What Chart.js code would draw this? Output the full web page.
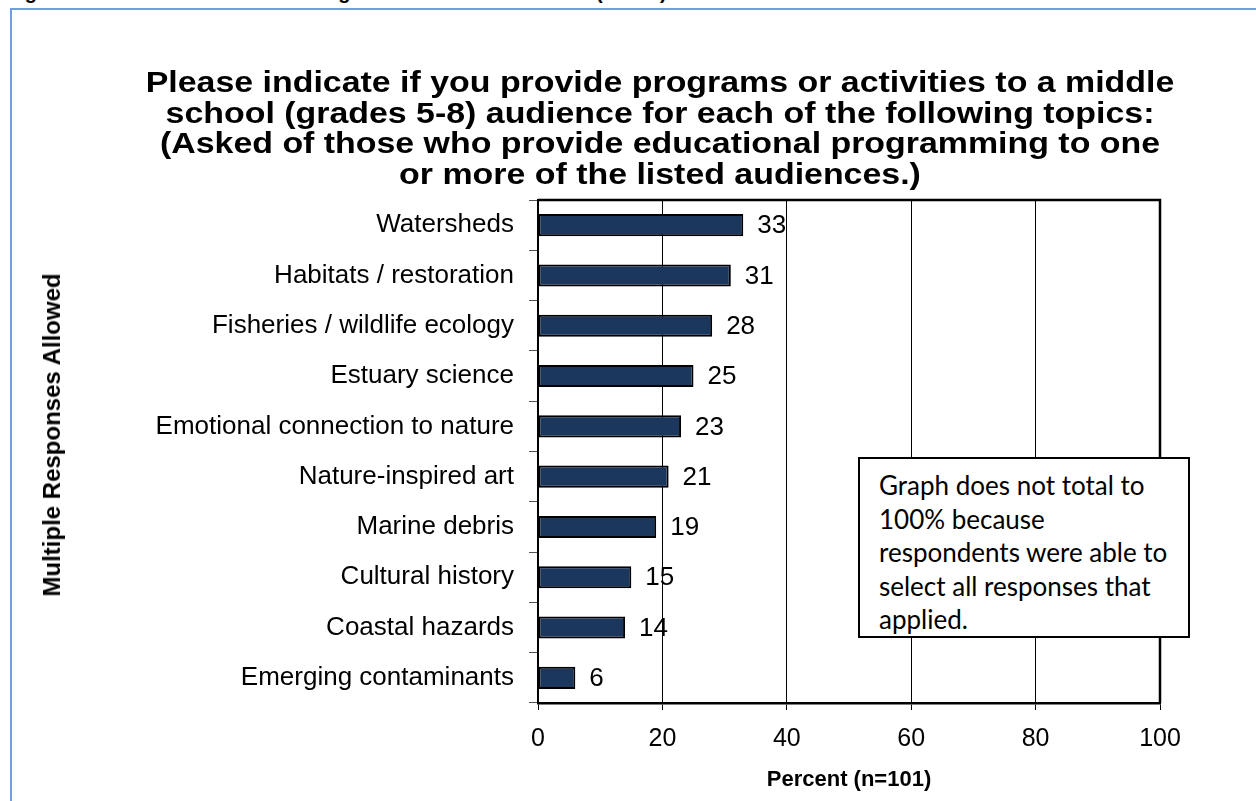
<!DOCTYPE html>
<html>
<head>
<meta charset="utf-8">
<script src="https://cdn.jsdelivr.net/npm/chart.js@4.4.1/dist/chart.umd.min.js"></script>
<style>
  html, body { margin: 0; padding: 0; background: #fff; }
  body { width: 1256px; height: 801px; position: relative; overflow: hidden; font-family: "Liberation Sans", Arial, sans-serif; }
  #frame { position: absolute; left: 10px; top: 8px; width: 1300px; height: 900px; border: 2px solid #6fa0dc; }
  #cutHead { position: absolute; left: 7px; top: -19px; font-weight: bold; font-size: 20px; white-space: nowrap; color: #000; }
  #title { position: absolute; left: 60px; width: 1200px; top: 67px; text-align: center; font-weight: bold; font-size: 30px; line-height: 30.5px; color: #000; transform: scaleX(1.13); transform-origin: 600px 0; }
  #ytitle { position: absolute; left: 52px; top: 435px; transform: translate(-50%, -50%) rotate(-90deg); font-weight: bold; font-size: 24px; white-space: nowrap; }
  #note { position: absolute; left: 858px; top: 457px; width: 332px; height: 181px; box-sizing: border-box; border: 2px solid #000; background: #fff; padding: 10px 0 0 19px; font-family: Lato, "Open Sans", sans-serif; font-size: 26px; line-height: 33.5px; color: #000; }
  canvas { position: absolute; left: 0; top: 0; }
</style>
</head>
<body>
<div id="frame"></div>
<div id="cutHead">Figure 27. Middle School Level Programs Offered to Students (n=101)</div>
<canvas id="chart" width="1256" height="801"></canvas>
<div id="title">Please indicate if you provide programs or activities to a middle<br>school (grades 5-8) audience for each of the following topics:<br>(Asked of those who provide educational programming to one<br>or more of the listed audiences.)</div>
<div id="ytitle">Multiple Responses Allowed</div>
<div id="note">Graph does not total to<br>100% because<br>respondents were able to<br>select all responses that<br>applied.</div>
<script>
// DATA
const topics = [
    "Watersheds", "Habitats / restoration", "Fisheries / wildlife ecology",
    "Estuary science", "Emotional connection to nature", "Nature-inspired art",
    "Marine debris", "Cultural history", "Coastal hazards", "Emerging contaminants"
];
const percents = [33, 31, 28, 25, 23, 21, 19, 15, 14, 6];
const xTicks = [0, 20, 40, 60, 80, 100];
const xTitle = "Percent (n=101)";

const FONT = "'Liberation Sans', Arial, sans-serif";

// VALUE LABELS + PLOT BORDER
const valueLabels = {
    id: "valueLabels",
    afterDatasetsDraw(chart) {
        const ctx = chart.ctx;
        const meta = chart.getDatasetMeta(0);
        ctx.save();
        ctx.font = "26px " + FONT;
        ctx.fillStyle = "#000";
        ctx.textAlign = "left";
        ctx.textBaseline = "middle";
        meta.data.forEach((bar, i) => {
            ctx.fillText(String(percents[i]), bar.x + 14, bar.y + 1);
        });
        ctx.restore();
    },
    afterDraw(chart) {
        const a = chart.chartArea;
        const ctx = chart.ctx;
        ctx.save();
        ctx.strokeStyle = "#000";
        ctx.lineWidth = 2.5;
        ctx.beginPath();
        ctx.moveTo(a.left, a.top);
        ctx.lineTo(a.right, a.top);
        ctx.lineTo(a.right, a.bottom);
        ctx.stroke();
        ctx.restore();
    }
};

new Chart(document.getElementById("chart").getContext("2d"), {
    type: "bar",
    data: {
        labels: topics,
        datasets: [{
            data: percents,
            backgroundColor: "#1c375e",
            borderColor: "#000",
            borderWidth: 2,
            borderSkipped: false,
            categoryPercentage: 1,
            barPercentage: 0.44
        }]
    },
    options: {
        indexAxis: "y",
        responsive: false,
        animation: false,
        layout: { padding: { left: 0, top: 200, right: 96, bottom: 0 } },
        plugins: { legend: { display: false }, tooltip: { enabled: false }, title: { display: false } },
        scales: {
            x: {
                min: 0,
                max: 100,
                afterFit: s => { s.height = 98; },
                afterBuildTicks: s => { s.ticks = xTicks.map(v => ({ value: v })); },
                grid: { color: "#000", lineWidth: 1, tickLength: 7, tickColor: "#000" },
                border: { color: "#000", width: 2.5 },
                ticks: { color: "#000", padding: 14, font: { size: 25, family: FONT } },
                title: {
                    display: true,
                    text: xTitle,
                    color: "#000",
                    font: { size: 22, weight: "bold", family: FONT },
                    padding: { top: 0, bottom: 8 }
                }
            },
            y: {
                afterFit: s => { s.width = 538; },
                grid: { drawOnChartArea: false, tickLength: 9, color: "#555", tickColor: "#555" },
                border: { color: "#000", width: 1.5 },
                ticks: { color: "#000", padding: 15, font: { size: 26, family: FONT } }
            }
        }
    },
    plugins: [valueLabels]
});
</script>
</body>
</html>
